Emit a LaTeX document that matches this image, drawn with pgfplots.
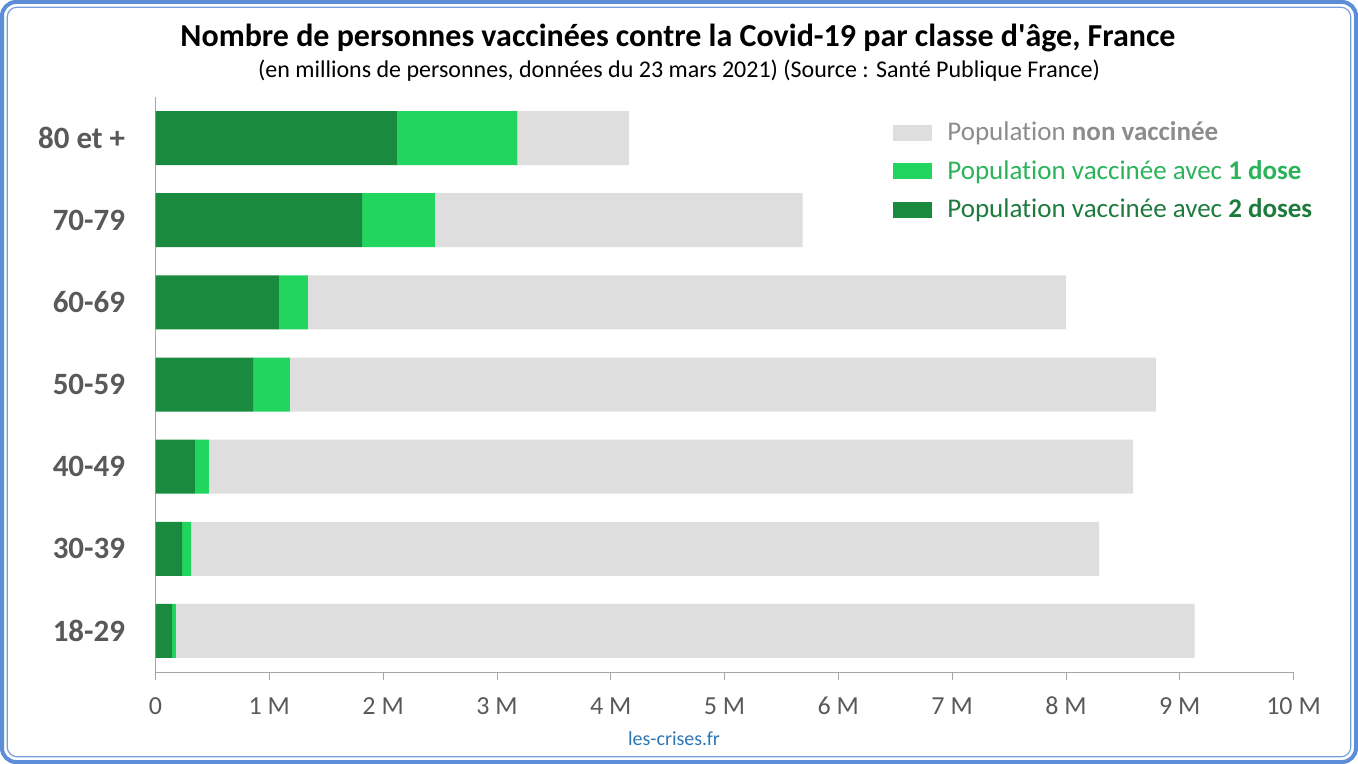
\documentclass[border=0pt]{standalone}
\usepackage{pgfplots}
\pgfplotsset{compat=1.18}
\usepackage{pgfplotstable}
\usepackage{fontspec}
\setmainfont[Ligatures={NoCommon}]{Carlito}
\definecolor{dgreen}{HTML}{1A8A3F}
\definecolor{lgreen}{HTML}{22D55E}
\definecolor{lgray}{HTML}{DEDEDE}
\definecolor{txtgray}{HTML}{595959}
\definecolor{leggray}{HTML}{8C8C8C}
\definecolor{leglgreen}{HTML}{2BB35A}
\definecolor{legdgreen}{HTML}{1E7B3E}
\definecolor{bordblue}{HTML}{5B8ED6}
\definecolor{linkblue}{HTML}{2E75B6}
\definecolor{axgray}{HTML}{A6A6A6}
\pgfplotstableread{
y dark light rest
0 0.145 0.035 8.95
1 0.233 0.079 7.98
2 0.347 0.123 8.12
3 0.857 0.323 7.61
4 1.085 0.255 6.66
5 1.815 0.641 3.231
6 2.12 1.06 0.98
}\data
\pgfplotsset{mylegend/.style={legend image code/.code={\fill[##1,draw=none] (0pt,-4pt) rectangle (19.5pt,4pt);}}}
\begin{document}
\begin{tikzpicture}
\useasboundingbox (0,0) rectangle (679pt,-382pt);
\draw[bordblue, line width=2pt, rounded corners=7pt] (1pt,-1pt) rectangle (678pt,-381pt);
\draw[bordblue!85, line width=0.6pt, rounded corners=5pt] (3.6pt,-3.6pt) rectangle (675.4pt,-378.4pt);
\node[anchor=base, inner sep=0pt, font=\fontsize{16}{19}\selectfont\bfseries] at (339pt,-23.5pt) {Nombre de personnes vaccinées contre la Covid-19 par classe d\textquotesingle âge, France};
\node[anchor=base, inner sep=0pt, font=\fontsize{12}{14}\selectfont] at (339.5pt,-39pt) {(en millions de personnes, données du 23 mars 2021) (Source : Santé Publique France)};
\node[anchor=base, inner sep=0pt, font=\fontsize{10}{12}\selectfont, text=linkblue] at (337pt,-372.5pt) {les-crises.fr};
\begin{axis}[
  at={(77.75pt,-336pt)}, anchor=south west,
  scale only axis, width=569pt, height=287.5pt,
  xbar stacked, bar width=27pt,
  xmin=0, xmax=10, ymin=-0.5, ymax=6.5,
  ytick={0,...,6},
  yticklabels={18-29,30-39,40-49,50-59,60-69,70-79,80 et +},
  xtick={0,...,10},
  xticklabels={0,1 M,2 M,3 M,4 M,5 M,6 M,7 M,8 M,9 M,10 M},
  axis x line*=bottom, axis y line*=left,
  x axis line style={axgray, -}, y axis line style={axgray, -},
  ytick style={draw=none},
  xtick style={axgray, thin},
  xtick align=outside,
  major tick length=4pt,
  yticklabel style={font=\fontsize{15.5}{18}\selectfont\bfseries, text=txtgray, inner sep=0pt, xshift=-15pt},
  xticklabel style={font=\fontsize{13}{15}\selectfont, text=txtgray, anchor=base, inner sep=0pt, yshift=-17pt},
  reverse legend,
  legend cell align=left,
  legend style={at={(0.648,0.965)}, anchor=north west, draw=none, fill=none, inner sep=0pt, row sep=4.3pt, font=\fontsize{13.5}{16}\selectfont},
]
\addplot[fill=dgreen, draw=none, mylegend] table[x=dark, y=y] {\data};
\addplot[fill=lgreen, draw=none, mylegend] table[x=light, y=y] {\data};
\addplot[fill=lgray, draw=none, mylegend] table[x=rest, y=y] {\data};
\legend{\hspace*{5.5pt}\textcolor{legdgreen}{Population vaccinée avec \textbf{2 doses}},
        \hspace*{5.5pt}\textcolor{leglgreen}{Population vaccinée avec \textbf{1 dose}},
        \hspace*{5.5pt}\textcolor{leggray}{Population \textbf{non vaccinée}}}
\end{axis}
\end{tikzpicture}
\end{document}
